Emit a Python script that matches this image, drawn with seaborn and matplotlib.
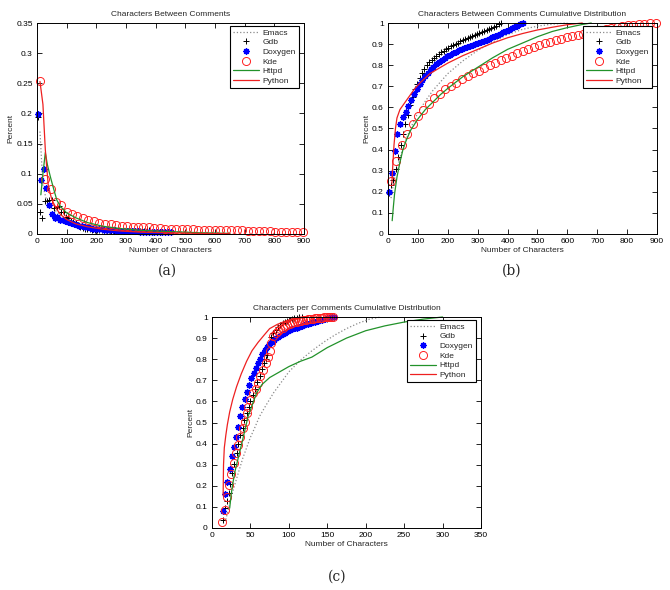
import matplotlib
matplotlib.use("Agg")
import matplotlib.pyplot as plt
import seaborn as sns
from matplotlib.ticker import FuncFormatter, MultipleLocator

# ---------------- data: (a) Characters Between Comments ----------------
a_emacs_x = [10, 20, 30, 40, 50, 60, 80, 100, 150, 200, 300, 400, 500, 600]
a_emacs_y = [0.17, 0.08, 0.06, 0.05, 0.045, 0.04, 0.03, 0.025, 0.017, 0.012, 0.008, 0.005, 0.003, 0.001]

a_gdb_x = [2, 10, 18, 26, 34, 42, 50, 58, 66, 74, 82, 90, 98, 106, 114, 122, 130, 138, 146, 154,
           162, 170, 178, 186, 194, 202, 210, 218, 226, 234, 242, 250, 258, 266, 274, 282, 290, 298,
           306, 314, 322, 330, 338, 346, 354, 362, 370, 378]
a_gdb_y = [0.194, 0.036, 0.026, 0.054, 0.054, 0.056, 0.056, 0.043, 0.045, 0.047, 0.037, 0.037, 0.028,
           0.027, 0.022, 0.020, 0.018, 0.015, 0.011, 0.010, 0.009, 0.008, 0.008, 0.007, 0.007, 0.007,
           0.007, 0.006, 0.006, 0.006, 0.006, 0.005, 0.005, 0.005, 0.005, 0.005, 0.005, 0.005, 0.005,
           0.005, 0.005, 0.005, 0.005, 0.005, 0.005, 0.005, 0.006, 0.006]

a_dox_x = [3, 12, 22, 31, 40, 50, 59, 68, 78, 87, 96, 106, 115, 124, 134, 143, 152, 162, 171, 180,
           190, 199, 208, 218, 227, 236, 246, 255, 264, 274, 283, 292, 302, 311, 320, 330, 339, 348,
           358, 367, 376, 386, 395, 404, 414, 423, 432, 442, 451]
a_dox_y = [0.199, 0.089, 0.107, 0.077, 0.048, 0.033, 0.026, 0.029, 0.024, 0.023, 0.022, 0.020, 0.019,
           0.016, 0.015, 0.014, 0.013, 0.012, 0.011, 0.010, 0.009, 0.0085, 0.008, 0.0075, 0.007, 0.007,
           0.0065, 0.006, 0.006, 0.0055, 0.005, 0.005, 0.005, 0.0048, 0.0046, 0.0044, 0.0042, 0.004,
           0.004, 0.004, 0.0038, 0.0036, 0.0035, 0.0034, 0.0033, 0.0032, 0.003, 0.003, 0.003]

a_kde_x = [10, 28, 47, 65, 82, 100, 118, 136, 155, 173, 192, 210, 229, 248, 266, 285, 303, 322, 340,
           358, 377, 395, 414, 432, 451, 469, 488, 506, 525, 543, 562, 580, 599, 617, 636, 654, 673,
           691, 710, 728, 747, 765, 784, 802, 821, 839, 858, 876, 898]
a_kde_y = [0.253, 0.091, 0.075, 0.053, 0.048, 0.037, 0.034, 0.030, 0.027, 0.023, 0.021, 0.019, 0.017,
           0.016, 0.015, 0.014, 0.013, 0.012, 0.011, 0.011, 0.011, 0.010, 0.010, 0.009, 0.009, 0.009,
           0.008, 0.008, 0.008, 0.007, 0.007, 0.007, 0.007, 0.006, 0.006, 0.006, 0.007, 0.006, 0.005,
           0.005, 0.005, 0.005, 0.0045, 0.004, 0.004, 0.004, 0.0035, 0.0035, 0.003]

a_httpd_x = [13, 20, 28, 35, 45, 56, 67, 80, 100, 130, 170, 220, 280, 350, 450, 550, 650]
a_httpd_y = [0.065, 0.10, 0.135, 0.115, 0.095, 0.075, 0.056, 0.045, 0.035, 0.027, 0.019, 0.013, 0.009,
             0.006, 0.004, 0.002, 0.001]

a_python_x = [10, 20, 28, 38, 50, 65, 80, 100, 130, 170, 220, 280, 350, 450, 550, 650]
a_python_y = [0.253, 0.215, 0.14, 0.08, 0.057, 0.042, 0.032, 0.024, 0.017, 0.012, 0.008, 0.005, 0.003,
              0.002, 0.001, 0.0005]

# ---------------- data: (b) cumulative distribution ----------------
b_emacs_x = [10, 20, 30, 40, 50, 60, 75, 100, 125, 150, 200, 250, 300, 350, 400, 450, 500, 550, 600]
b_emacs_y = [0.17, 0.25, 0.31, 0.36, 0.405, 0.445, 0.5, 0.575, 0.63, 0.68, 0.76, 0.82, 0.87, 0.91,
             0.945, 0.97, 0.985, 0.995, 1.0]

b_gdb_x = a_gdb_x
b_gdb_y = [0.194, 0.23, 0.256, 0.31, 0.364, 0.42, 0.476, 0.519, 0.564, 0.611, 0.648, 0.685, 0.713,
           0.74, 0.762, 0.782, 0.8, 0.815, 0.826, 0.836, 0.845, 0.853, 0.861, 0.868, 0.875, 0.882,
           0.889, 0.895, 0.901, 0.907, 0.913, 0.918, 0.923, 0.928, 0.933, 0.938, 0.943, 0.948, 0.953,
           0.958, 0.963, 0.968, 0.973, 0.978, 0.983, 0.988, 0.994, 1.0]

b_dox_x = a_dox_x
b_dox_y = [0.198, 0.288, 0.395, 0.472, 0.52, 0.553, 0.58, 0.607, 0.637, 0.662, 0.688, 0.71, 0.73,
           0.748, 0.765, 0.78, 0.793, 0.806, 0.815, 0.825, 0.834, 0.842, 0.85, 0.857, 0.864, 0.871,
           0.876, 0.881, 0.886, 0.89, 0.895, 0.9, 0.905, 0.91, 0.915, 0.92, 0.926, 0.932, 0.938,
           0.944, 0.95, 0.956, 0.962, 0.968, 0.975, 0.982, 0.988, 0.994, 1.0]

b_kde_x = a_kde_x
b_kde_y = [0.253, 0.345, 0.42, 0.472, 0.52, 0.557, 0.59, 0.618, 0.645, 0.665, 0.685, 0.702, 0.718,
           0.733, 0.748, 0.762, 0.774, 0.787, 0.799, 0.81, 0.823, 0.834, 0.845, 0.856, 0.866, 0.876,
           0.886, 0.895, 0.903, 0.911, 0.918, 0.925, 0.932, 0.938, 0.943, 0.948, 0.954, 0.96, 0.965,
           0.97, 0.975, 0.98, 0.985, 0.989, 0.992, 0.994, 0.996, 0.998, 1.0]

b_httpd_x = [14, 18, 22, 30, 40, 50, 60, 75, 100, 125, 150, 175, 200, 250, 300, 350, 400, 450, 500,
             550, 600, 650, 680]
b_httpd_y = [0.063, 0.13, 0.19, 0.27, 0.34, 0.40, 0.44, 0.49, 0.545, 0.59, 0.625, 0.66, 0.69, 0.745,
             0.79, 0.835, 0.875, 0.905, 0.935, 0.96, 0.978, 0.993, 1.0]

b_python_x = [13, 15, 20, 25, 30, 40, 50, 70, 90, 110, 140, 170, 200, 250, 300, 350, 400, 450, 500,
              550, 600, 650]
b_python_y = [0.24, 0.3, 0.42, 0.5, 0.55, 0.59, 0.61, 0.65, 0.69, 0.72, 0.76, 0.785, 0.81, 0.845,
              0.875, 0.905, 0.93, 0.95, 0.967, 0.98, 0.992, 1.0]

# ---------------- data: (c) characters per comment, cumulative ----------------
c_emacs_x = [18, 22, 26, 30, 35, 40, 45, 50, 55, 62, 70, 80, 90, 100, 115, 130, 145, 160, 175, 190,
             205, 220]
c_emacs_y = [0.04, 0.1, 0.16, 0.21, 0.27, 0.33, 0.38, 0.43, 0.47, 0.53, 0.58, 0.64, 0.69, 0.74, 0.795,
             0.84, 0.88, 0.915, 0.945, 0.97, 0.99, 1.0]

c_gdb_x = [14, 17, 20, 22, 23.5, 26.5, 29, 32, 34, 37, 40, 42, 45, 48, 50, 53, 56, 59, 62, 65, 68,
           70, 72, 74, 77, 80, 83, 86, 89, 92, 95, 98, 101, 104, 107, 110, 113, 117]
c_gdb_y = [0.04, 0.094, 0.13, 0.168, 0.21, 0.26, 0.304, 0.357, 0.398, 0.44, 0.476, 0.51, 0.545, 0.575,
           0.6, 0.63, 0.66, 0.69, 0.72, 0.755, 0.78, 0.8, 0.82, 0.87, 0.905, 0.925, 0.94, 0.952, 0.962,
           0.97, 0.977, 0.983, 0.988, 0.992, 0.995, 0.997, 0.999, 1.0]

c_dox_x = [14, 17.5, 20, 23, 26, 28.5, 31.5, 34, 37, 39.5, 42.5, 45.5, 48, 51, 54, 57, 60, 63, 65.5,
           68.5, 71.5, 74.5, 77.5, 80.5, 83.5, 86.5, 89.5, 92.5, 95.5, 98.5, 101.5, 104.5, 107.5,
           110.5, 113.5, 116.5, 119.5, 122.5, 125.5, 128.5, 131.5, 134.5, 137.5, 140.5, 143.5, 146.5,
           149.5, 152.5, 155.5, 158.5]
c_dox_y = [0.079, 0.162, 0.216, 0.279, 0.339, 0.386, 0.433, 0.48, 0.53, 0.575, 0.61, 0.646, 0.677,
           0.709, 0.735, 0.76, 0.783, 0.803, 0.824, 0.843, 0.858, 0.871, 0.882, 0.892, 0.9, 0.907,
           0.914, 0.92, 0.926, 0.932, 0.937, 0.942, 0.946, 0.95, 0.954, 0.958, 0.962, 0.966, 0.969,
           0.972, 0.975, 0.978, 0.981, 0.984, 0.987, 0.99, 0.993, 0.995, 0.998, 1.0]

c_kde_x = [13, 16.5, 20, 22, 25, 28, 31, 34, 37, 40, 42.5, 45, 47, 50, 53, 57, 60, 63, 66, 70, 73, 75,
           77, 80, 83, 86, 89, 92, 95, 98, 101, 104, 107, 110, 113, 116, 119, 122, 125, 128, 131, 134,
           137, 140, 143, 146, 149, 152, 155, 158]
c_kde_y = [0.028, 0.087, 0.146, 0.205, 0.257, 0.307, 0.354, 0.394, 0.433, 0.476, 0.504, 0.543, 0.575,
           0.606, 0.638, 0.661, 0.688, 0.72, 0.748, 0.78, 0.81, 0.84, 0.875, 0.91, 0.925, 0.935, 0.943,
           0.95, 0.956, 0.961, 0.966, 0.97, 0.974, 0.977, 0.98, 0.983, 0.985, 0.987, 0.989, 0.991,
           0.992, 0.994, 0.995, 0.996, 0.997, 0.998, 0.999, 0.999, 1.0, 1.0]

c_httpd_x = [23, 25, 27, 30, 34, 40, 47, 51, 58, 65, 75, 88, 100, 115, 130, 150, 175, 200, 225, 250,
             275, 300]
c_httpd_y = [0.094, 0.16, 0.21, 0.27, 0.33, 0.42, 0.53, 0.57, 0.64, 0.68, 0.713, 0.74, 0.765, 0.79,
             0.81, 0.855, 0.9, 0.935, 0.958, 0.976, 0.99, 1.0]

c_python_x = [14.5, 15, 16, 18, 20, 23, 27, 32, 38, 45, 52, 60, 68, 75, 85, 95, 105, 115]
c_python_y = [0.155, 0.3, 0.38, 0.44, 0.49, 0.55, 0.61, 0.67, 0.73, 0.79, 0.84, 0.88, 0.915, 0.945,
              0.965, 0.98, 0.992, 1.0]

series_names = ["Emacs", "Gdb", "Doxygen", "Kde", "Httpd", "Python"]

# ---------------- styling ----------------
sns.set_style("ticks", {"xtick.direction": "in", "ytick.direction": "in",
                        "axes.edgecolor": "black"})
plt.rcParams["font.family"] = ["Liberation Sans", "DejaVu Sans"]

FS = 6.0

STYLES = {
    "Emacs": dict(color="#8a8a8a", linestyle=":", linewidth=0.9),
    "Gdb": dict(color="black", linestyle="none", marker="+", markersize=4.5,
                markeredgewidth=0.7, markeredgecolor="black"),
    "Doxygen": dict(color="#0000ff", linestyle="none", marker=(8, 2, 0), markersize=4.5,
                    markeredgewidth=1.0, markeredgecolor="#0000ff"),
    "Kde": dict(color="#ff0000", linestyle="none", marker="o", markersize=5.8,
                markerfacecolor="none", markeredgewidth=0.7, markeredgecolor="#ff2020"),
    "Httpd": dict(color="#22922a", linewidth=0.9),
    "Python": dict(color="#ee2020", linewidth=0.9),
}

W, H = 670, 590
fig = plt.figure(figsize=(W / 100, H / 100), dpi=100)


def make_axes(left, top, right, bottom):
    return fig.add_axes([left / W, 1 - bottom / H, (right - left) / W, (bottom - top) / H])


def draw_panel(ax, data, title, xmax, xstep, ymax, ystep):
    for name, (xs, ys) in zip(series_names, data):
        sns.lineplot(x=xs, y=ys, ax=ax, label=name, estimator=None, sort=False,
                     clip_on=False, **STYLES[name])
    ax.set_xlim(0, xmax)
    ax.set_ylim(0, ymax)
    ax.xaxis.set_major_locator(MultipleLocator(xstep))
    ax.yaxis.set_major_locator(MultipleLocator(ystep))
    fmt = FuncFormatter(lambda v, p: f"{round(v, 4):g}")
    ax.xaxis.set_major_formatter(fmt)
    ax.yaxis.set_major_formatter(fmt)
    ax.tick_params(direction="in", top=True, right=True, length=3.5, width=0.6,
                   labelsize=FS, pad=3, colors="black")
    for sp in ax.spines.values():
        sp.set_visible(True)
        sp.set_linewidth(0.7)
        sp.set_color("black")
    ax.set_xlabel("Number of Characters", fontsize=FS, labelpad=1.5)
    ax.set_ylabel("Percent", fontsize=FS, labelpad=1)
    ax.set_title(title, fontsize=FS, pad=5)
    w_px = ax.get_position().width * W
    h_px = ax.get_position().height * H
    leg = ax.legend(loc="upper right", bbox_to_anchor=(1 - 5 / w_px, 1 - 3 / h_px),
                    fontsize=FS, frameon=True, fancybox=False,
                    edgecolor="black", framealpha=1, borderpad=0.35, labelspacing=0.22,
                    handlelength=3.2, handletextpad=0.4, borderaxespad=0, numpoints=1)
    leg.get_frame().set_linewidth(0.8)


ax_a = make_axes(37, 23, 304, 234)
draw_panel(ax_a,
           [(a_emacs_x, a_emacs_y), (a_gdb_x, a_gdb_y), (a_dox_x, a_dox_y),
            (a_kde_x, a_kde_y), (a_httpd_x, a_httpd_y), (a_python_x, a_python_y)],
           "Characters Between Comments", 900, 100, 0.35, 0.05)

ax_b = make_axes(388, 23, 657, 234)
draw_panel(ax_b,
           [(b_emacs_x, b_emacs_y), (b_gdb_x, b_gdb_y), (b_dox_x, b_dox_y),
            (b_kde_x, b_kde_y), (b_httpd_x, b_httpd_y), (b_python_x, b_python_y)],
           "Characters Between Comments Cumulative Distribution", 900, 100, 1.0, 0.1)

ax_c = make_axes(212, 317, 481, 528)
draw_panel(ax_c,
           [(c_emacs_x, c_emacs_y), (c_gdb_x, c_gdb_y), (c_dox_x, c_dox_y),
            (c_kde_x, c_kde_y), (c_httpd_x, c_httpd_y), (c_python_x, c_python_y)],
           "Characters per Comments Cumulative Distribution", 350, 50, 1.0, 0.1)

cap_kw = dict(ha="center", va="center", fontsize=10, family=["DejaVu Serif"])
fig.text(167 / W, 1 - 271 / H, "(a)", **cap_kw)
fig.text(512 / W, 1 - 271 / H, "(b)", **cap_kw)
fig.text(337 / W, 1 - 577 / H, "(c)", **cap_kw)

fig.savefig("out.png", dpi=100, facecolor="white")
